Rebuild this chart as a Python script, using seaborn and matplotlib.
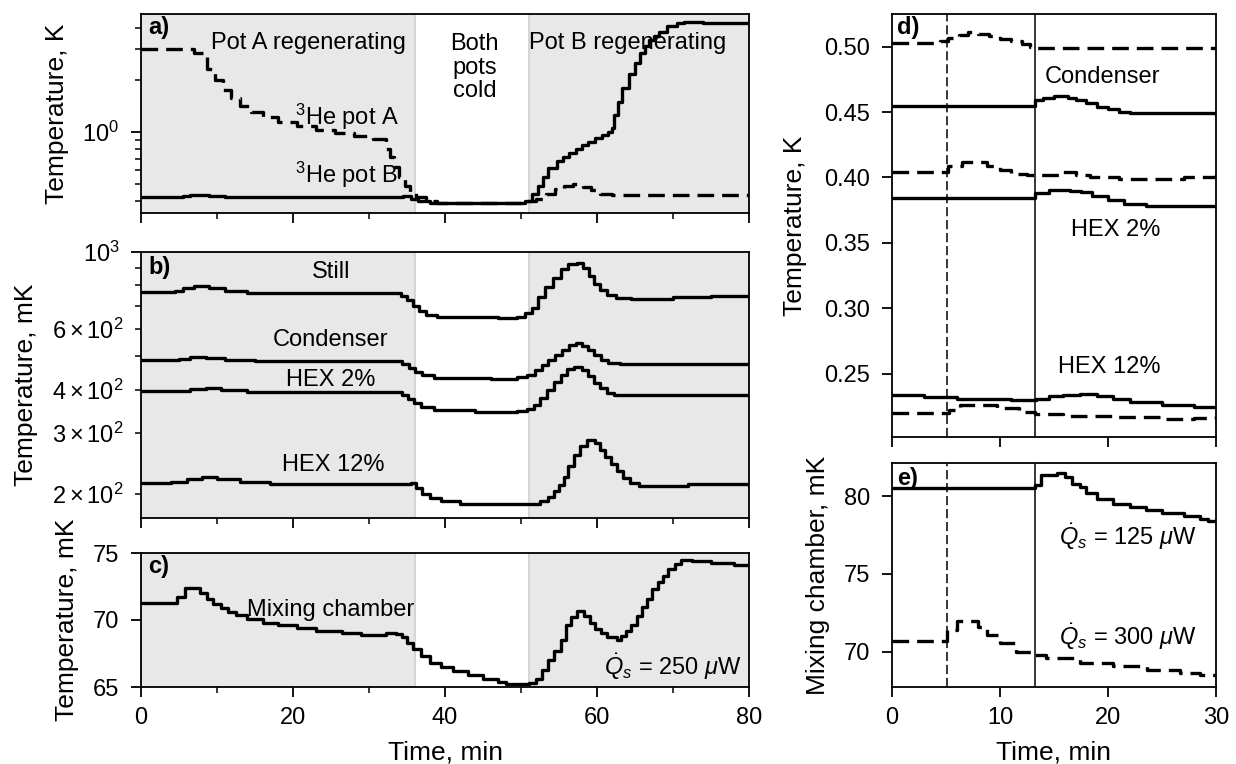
import numpy as np
import pandas as pd
import matplotlib
matplotlib.use("Agg")
import matplotlib.pyplot as plt
import seaborn as sns
from matplotlib.ticker import MultipleLocator

# ---------------- data ----------------
# Panel a: 3He pots, K
potA_t = [0, 7.0, 8.7, 9.8, 10.8, 11.8, 13.0, 14.5, 16.0, 18.0, 20.5, 23.0, 25.5, 28.0, 30.5,
          32.3, 32.8, 33.3, 34.0, 34.7, 35.4, 36.2, 37.5, 39.0, 50.5, 52.0, 53.3, 54.5, 55.7,
          56.9, 58.2, 59.2, 60.4, 62.0, 80]
potA_v = [3.0, 2.85, 2.3, 2.0, 1.75, 1.58, 1.42, 1.30, 1.22, 1.14, 1.08, 1.03, 0.99, 0.95, 0.91,
          0.80, 0.72, 0.63, 0.55, 0.49, 0.45, 0.42, 0.40, 0.39, 0.40, 0.41, 0.44, 0.47, 0.49,
          0.50, 0.48, 0.46, 0.44, 0.43, 0.43]
potB_t = [0, 5.5, 6.5, 9.0, 11.0, 33.0, 34.5, 35.5, 36.5, 38.0, 50.5, 51.5, 52.2, 52.9, 53.6,
          54.7, 55.5, 56.3, 57.2, 58.0, 58.8, 59.7, 60.6, 61.4, 62.0, 62.3, 62.8, 63.3, 64.2,
          65.0, 65.7, 66.3, 66.9, 67.5, 68.2, 69.2, 70.5, 71.5, 74.0, 80]
potB_v = [0.42, 0.425, 0.43, 0.425, 0.42, 0.42, 0.425, 0.41, 0.40, 0.39, 0.40, 0.44, 0.49, 0.55,
          0.62, 0.68, 0.72, 0.76, 0.80, 0.84, 0.88, 0.92, 0.96, 1.0, 1.05, 1.25, 1.50, 1.80,
          2.15, 2.5, 2.85, 3.15, 3.4, 3.6, 3.8, 4.1, 4.25, 4.3, 4.25, 4.2]

# Panel b: mK
still_t = [0, 4.5, 5.5, 7.0, 9.0, 11.0, 14.0, 33.5, 34.2, 35.0, 35.8, 36.6, 37.5, 39.0, 47.0,
           49.5, 50.5, 51.5, 52.3, 53.2, 54.2, 55.2, 56.2, 57.4, 58.1, 58.9, 59.6, 60.4, 61.3,
           62.5, 64.5, 70.0, 75.0, 80]
still_v = [766, 770, 785, 795, 785, 772, 762, 762, 745, 725, 700, 675, 658, 647, 645,
           650, 665, 690, 740, 790, 840, 895, 925, 930, 900, 855, 810, 775, 750,
           735, 730, 742, 745, 742]
cond_t = [0, 5.0, 6.5, 8.5, 11.0, 15.0, 33.5, 34.3, 35.2, 36.1, 37.0, 38.5, 46.0, 49.5, 50.8,
          51.8, 52.7, 53.6, 54.5, 55.4, 56.3, 57.2, 58.0, 58.8, 59.6, 60.5, 61.5, 63.0, 80]
cond_v = [487, 490, 496, 494, 488, 484, 484, 475, 463, 450, 440, 432, 430, 434, 442,
          455, 470, 488, 505, 522, 538, 545, 535, 520, 503, 488, 478, 474, 477]
hex2_t = [0, 5.0, 6.5, 8.5, 10.5, 14.0, 33.5, 34.3, 35.1, 35.9, 36.8, 38.5, 44.0, 49.5, 50.8,
          51.7, 52.5, 53.4, 54.3, 55.2, 56.1, 57.0, 58.0, 58.8, 59.6, 60.4, 61.3, 62.3, 80]
hex2_v = [397, 397, 402, 403, 398, 393, 393, 385, 375, 365, 355, 348, 345, 347, 352,
          362, 378, 398, 420, 440, 458, 465, 455, 438, 418, 403, 392, 386, 384]
hex12_t = [0, 4.0, 6.0, 8.0, 10.0, 13.0, 17.0, 33.0, 35.5, 36.2, 37.0, 38.0, 39.5, 42.0, 51.0,
           52.5, 53.5, 54.3, 55.0, 55.6, 56.2, 57.0, 57.7, 58.7, 59.7, 60.4, 61.1, 61.8, 62.6,
           63.4, 64.3, 65.5, 72.0, 80]
hex12_v = [215, 216, 220, 223, 221, 216, 213, 213, 215, 208, 200, 194, 190, 187, 187,
           190, 196, 203, 212, 224, 240, 258, 275, 286, 280, 268, 255, 243, 232,
           222, 215, 211, 213, 211]

# Panel c: mixing chamber, mK
mix_t = [0, 4.7, 5.8, 7.8, 8.7, 9.5, 10.5, 11.5, 12.5, 14.0, 16.0, 18.0, 20.5, 23.0, 25.0,
         26.5, 29.0, 31.0, 32.2, 33.5, 34.3, 35.0, 35.8, 36.8, 38.0, 39.5, 41.0, 43.0, 45.0,
         47.0, 48.0, 51.0, 52.0, 52.8, 53.6, 54.4, 55.2, 55.9, 56.6, 57.4, 58.3, 59.1, 59.8,
         60.5, 61.3, 62.6, 63.1, 63.8, 64.5, 65.2, 65.9, 66.6, 67.3, 68.0, 68.7, 69.4, 70.2,
         71.0, 72.5, 75.0, 78.0, 80]
mix_v = [71.3, 71.7, 72.4, 72.0, 71.6, 71.2, 70.9, 70.6, 70.4, 70.1, 69.8, 69.6, 69.4, 69.15, 69.2,
         69.0, 68.9, 68.85, 69.05, 68.95, 68.7, 68.3, 67.8, 67.3, 66.8, 66.5, 66.2, 65.9, 65.6,
         65.4, 65.25, 65.3, 65.6, 66.3, 67.0, 67.7, 68.5, 69.6, 70.2, 70.7, 70.3, 69.8, 69.3,
         69.0, 68.7, 68.5, 68.8, 69.2, 69.6, 70.3, 71.0, 71.6, 72.3, 72.8, 73.3, 73.8, 74.2,
         74.5, 74.4, 74.25, 74.1, 74.0]

# Panel d: K, 0-30 min (solid = 125 uW, dashed = 300 uW)
d_top300_t = [0, 2.5, 4.4, 5.2, 6.2, 7.0, 8.0, 9.0, 10.0, 11.0, 12.0, 12.8, 13.2, 30]
d_top300_v = [0.5025, 0.5025, 0.504, 0.507, 0.509, 0.511, 0.510, 0.508, 0.506, 0.504, 0.502,
              0.500, 0.499, 0.499]
d_cond125_t = [0, 13.2, 14.0, 15.0, 16.3, 17.0, 18.0, 19.0, 20.0, 21.0, 22.0, 30]
d_cond125_v = [0.455, 0.459, 0.461, 0.462, 0.461, 0.459, 0.457, 0.454, 0.452, 0.450, 0.449, 0.448]
d_mid300_t = [0, 5.2, 6.5, 7.5, 8.8, 10.0, 11.0, 12.5, 13.2, 15.8, 17.0, 18.3, 21.0, 25.0, 27.0, 30]
d_mid300_v = [0.404, 0.409, 0.4115, 0.412, 0.409, 0.406, 0.403, 0.402, 0.4015, 0.404, 0.402,
              0.400, 0.399, 0.399, 0.400, 0.4025]
d_hex2_t = [0, 13.2, 14.5, 16.5, 17.5, 18.5, 20.0, 21.5, 23.5, 30]
d_hex2_v = [0.3845, 0.388, 0.3905, 0.390, 0.3885, 0.386, 0.383, 0.380, 0.3785, 0.378]
d_hex12_125_t = [0, 3.0, 6.0, 11.0, 13.3, 14.5, 15.8, 17.4, 19.0, 20.5, 22.0, 25.0, 28.0, 30]
d_hex12_125_v = [0.2338, 0.232, 0.2305, 0.2295, 0.2305, 0.2325, 0.234, 0.2343, 0.2325, 0.2305,
                 0.2285, 0.2258, 0.2248, 0.2244]
d_hex12_300_t = [0, 5.3, 6.3, 8.1, 9.7, 11.8, 13.2, 15.8, 20.5, 25.1, 28.0, 30]
d_hex12_300_v = [0.2202, 0.222, 0.2256, 0.2262, 0.2236, 0.221, 0.219, 0.2172, 0.2165, 0.2156,
                 0.2158, 0.2172]

# Panel e: mixing chamber, mK
e125_t = [0, 13.2, 13.8, 15.3, 16.0, 16.7, 17.4, 18.0, 19.0, 20.5, 22.0, 23.5, 25.0, 27.0, 28.5, 29.3, 30]
e125_v = [80.5, 80.7, 81.35, 81.5, 81.25, 80.8, 80.55, 80.2, 79.8, 79.5, 79.3, 79.1, 78.9, 78.7,
          78.55, 78.4, 78.4]
e300_t = [0, 5.1, 6.0, 7.3, 8.0, 8.8, 10.0, 11.5, 13.2, 14.3, 17.4, 20.5, 23.6, 26.7, 28.5, 30]
e300_v = [70.7, 71.4, 72.0, 71.95, 71.6, 71.1, 70.55, 70.0, 69.8, 69.6, 69.3, 69.05, 68.85, 68.6,
          68.5, 68.5]

regen_spans = [(0, 36), (51, 80)]
vline_dashed = 5.1
vline_solid = 13.2

# ---------------- style ----------------
sns.set_style("ticks")
plt.rcParams['font.family'] = ['Liberation Sans', 'DejaVu Sans']
plt.rcParams['mathtext.fontset'] = 'custom'
plt.rcParams['mathtext.rm'] = 'Liberation Sans'
plt.rcParams['mathtext.it'] = 'Liberation Sans:italic'
plt.rcParams['mathtext.bf'] = 'Liberation Sans:bold'
plt.rcParams['text.color'] = 'black'
plt.rcParams['axes.labelcolor'] = 'black'
plt.rcParams['axes.linewidth'] = 1.3
plt.rcParams['axes.edgecolor'] = 'black'
plt.rcParams['xtick.color'] = 'black'
plt.rcParams['ytick.color'] = 'black'
plt.rcParams['xtick.labelcolor'] = 'black'
plt.rcParams['ytick.labelcolor'] = 'black'
plt.rcParams['xtick.major.size'] = 7
plt.rcParams['ytick.major.size'] = 7
plt.rcParams['xtick.minor.size'] = 4
plt.rcParams['ytick.minor.size'] = 4
plt.rcParams['xtick.major.width'] = 1.3
plt.rcParams['ytick.major.width'] = 1.3
plt.rcParams['xtick.minor.width'] = 1.1
plt.rcParams['ytick.minor.width'] = 1.1
plt.rcParams['xtick.major.pad'] = 7.5
plt.rcParams['ytick.major.pad'] = 8.5
plt.rcParams['xtick.minor.pad'] = 7.5
plt.rcParams['ytick.minor.pad'] = 8.5

TICK = 17
LAB = 19
ANN = 17
LW = 2.4
DASH = (0, (5, 2.4))

fig = plt.figure(figsize=(12.36, 7.64), dpi=100)
W, H = 1236, 764


def add_ax(left, top, right, bottom):
    return fig.add_axes([left / W, 1 - bottom / H, (right - left) / W, (bottom - top) / H])


ax_a = add_ax(141, 14, 749, 213)
ax_b = add_ax(141, 252, 749, 518)
ax_c = add_ax(141, 553, 749, 687)
ax_d = add_ax(892, 14, 1216, 437)
ax_e = add_ax(892, 463, 1216, 687)


def draw(ax, t, v, dashed=False, lw=LW):
    df = pd.DataFrame({'t': t, 'v': v})
    sns.lineplot(data=df, x='t', y='v', ax=ax, color='black', linewidth=lw,
                 drawstyle='steps-post', estimator=None, sort=True,
                 linestyle=DASH if dashed else '-')


for ax in (ax_a, ax_b, ax_c):
    for (s0, s1) in regen_spans:
        ax.axvspan(s0, s1, facecolor='#e8e8e8', edgecolor='#d6d6d6', linewidth=1.5, zorder=0)
    ax.set_xlim(0, 80)
    ax.xaxis.set_major_locator(MultipleLocator(20))
    ax.xaxis.set_minor_locator(MultipleLocator(10))

# Panel a
draw(ax_a, potA_t, potA_v, dashed=True)
draw(ax_a, potB_t, potB_v)
ax_a.set_yscale('log')
ax_a.set_ylim(0.34, 4.81)
ax_a.set_ylabel('Temperature, K', fontsize=LAB, labelpad=10)
ax_a.tick_params(labelbottom=False)
ta = ax_a.transAxes
ax_a.text(0.0115, 0.93, 'a)', transform=ta, fontsize=ANN, fontweight='bold', va='center', ha='left')
ax_a.text(0.2755, 0.854, 'Pot A regenerating', transform=ta, fontsize=ANN, ha='center', va='center')
ax_a.text(0.549, 0.731, 'Both\npots\ncold', transform=ta, fontsize=ANN, ha='center', va='center',
          linespacing=1.08)
ax_a.text(0.801, 0.854, 'Pot B regenerating', transform=ta, fontsize=ANN, ha='center', va='center')
ax_a.text(0.338, 0.482, r'$^3$He pot A', transform=ta, fontsize=ANN, ha='center', va='center')
ax_a.text(0.338, 0.191, r'$^3$He pot B', transform=ta, fontsize=ANN, ha='center', va='center')

# Panel b
for t, v in ((still_t, still_v), (cond_t, cond_v), (hex2_t, hex2_v), (hex12_t, hex12_v)):
    draw(ax_b, t, v)
ax_b.set_yscale('log')
ax_b.set_ylim(170, 1000)
ax_b.set_ylabel('Temperature, mK', fontsize=LAB, labelpad=10)
ax_b.tick_params(labelbottom=False)
tb = ax_b.transAxes
ax_b.text(0.0115, 0.94, 'b)', transform=tb, fontsize=ANN, fontweight='bold', va='center', ha='left')
ax_b.text(0.3125, 0.925, 'Still', transform=tb, fontsize=ANN, ha='center', va='center')
ax_b.text(0.312, 0.669, 'Condenser', transform=tb, fontsize=ANN, ha='center', va='center')
ax_b.text(0.3125, 0.519, 'HEX 2%', transform=tb, fontsize=ANN, ha='center', va='center')
ax_b.text(0.317, 0.199, 'HEX 12%', transform=tb, fontsize=ANN, ha='center', va='center')

# Panel c
draw(ax_c, mix_t, mix_v)
ax_c.set_ylim(65, 75)
ax_c.yaxis.set_major_locator(MultipleLocator(5))
ax_c.set_ylabel('Temperature, mK', fontsize=LAB, labelpad=10)
ax_c.set_xlabel('Time, min', fontsize=LAB, labelpad=8)
tc = ax_c.transAxes
ax_c.text(0.0115, 0.896, 'c)', transform=tc, fontsize=ANN, fontweight='bold', va='center', ha='left')
ax_c.text(0.3125, 0.575, 'Mixing chamber', transform=tc, fontsize=ANN, ha='center', va='center')
ax_c.text(0.9885, 0.15, r'$\dot{Q}_s$ = 250 $\mu$W', transform=tc, fontsize=ANN, ha='right', va='center')

# Panel d
draw(ax_d, d_top300_t, d_top300_v, dashed=True)
draw(ax_d, d_cond125_t, d_cond125_v)
draw(ax_d, d_mid300_t, d_mid300_v, dashed=True)
draw(ax_d, d_hex2_t, d_hex2_v)
draw(ax_d, d_hex12_125_t, d_hex12_125_v)
draw(ax_d, d_hex12_300_t, d_hex12_300_v, dashed=True)
ax_d.set_xlim(0, 30)
ax_d.set_ylim(0.2015, 0.525)
ax_d.yaxis.set_major_locator(MultipleLocator(0.05))
ax_d.xaxis.set_major_locator(MultipleLocator(10))
ax_d.set_ylabel('Temperature, K', fontsize=LAB, labelpad=13)
ax_d.tick_params(labelbottom=False)
td = ax_d.transAxes
ax_d.text(0.015, 0.969, 'd)', transform=td, fontsize=ANN, fontweight='bold', va='center', ha='left')
ax_d.text(0.650, 0.851, 'Condenser', transform=td, fontsize=ANN, ha='center', va='center')
ax_d.text(0.691, 0.489, 'HEX 2%', transform=td, fontsize=ANN, ha='center', va='center')
ax_d.text(0.670, 0.165, 'HEX 12%', transform=td, fontsize=ANN, ha='center', va='center')

# Panel e
draw(ax_e, e125_t, e125_v)
draw(ax_e, e300_t, e300_v, dashed=True)
ax_e.set_xlim(0, 30)
ax_e.set_ylim(67.73, 82.12)
ax_e.yaxis.set_major_locator(MultipleLocator(5))
ax_e.xaxis.set_major_locator(MultipleLocator(10))
ax_e.set_ylabel('Mixing chamber, mK', fontsize=LAB, labelpad=10)
ax_e.set_xlabel('Time, min', fontsize=LAB, labelpad=8)
te = ax_e.transAxes
ax_e.text(0.015, 0.933, 'e)', transform=te, fontsize=ANN, fontweight='bold', va='center', ha='left')
ax_e.text(0.727, 0.67, r'$\dot{Q}_s$ = 125 $\mu$W', transform=te, fontsize=ANN, ha='center', va='center')
ax_e.text(0.727, 0.223, r'$\dot{Q}_s$ = 300 $\mu$W', transform=te, fontsize=ANN, ha='center', va='center')

for ax in (ax_d, ax_e):
    ax.axvline(vline_dashed, color='black', linewidth=1.1, linestyle=(0, (6, 2.5)), zorder=1)
    ax.axvline(vline_solid, color='black', linewidth=1.1, zorder=1)

for ax in (ax_a, ax_b, ax_c, ax_d, ax_e):
    ax.tick_params(axis='both', which='both', labelsize=TICK, direction='out',
                   colors='black', labelcolor='black')
    ax.tick_params(top=False, right=False)
    for s in ax.spines.values():
        s.set_visible(True)
        s.set_color('black')
    if ax not in (ax_c, ax_e):
        ax.set_xlabel('')

fig.savefig('out.png', dpi=100)
